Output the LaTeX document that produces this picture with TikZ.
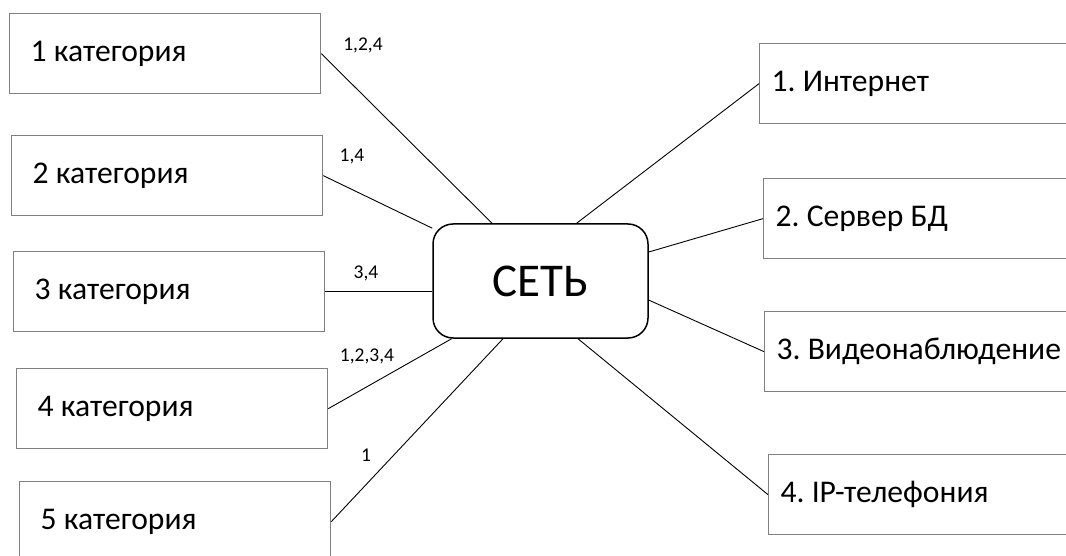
\documentclass[tikz,border=0pt]{standalone}
\usepackage{fontspec}
\setmainfont{Carlito}
\frenchspacing
\tikzset{
catnode/.style={rectangle, draw=gray, line width=1.3pt, anchor=north west, text width=269pt, inner xsep=21pt, minimum height=80pt, align=flush left, font=\fontsize{31.6}{38}\selectfont},
svcnode/.style={rectangle, draw=gray, line width=1.3pt, anchor=north west, text width=300pt, inner xsep=12pt, minimum height=80pt, align=flush left, font=\fontsize{31.6}{38}\selectfont},
netnode/.style={rectangle, rounded corners=20pt, draw=black, line width=1.5pt, minimum width=215pt, minimum height=114pt, font=\fontsize{47}{54}\selectfont},
lblnode/.style={inner sep=0pt, font=\fontsize{19.5}{22}\selectfont},
link/.style={draw=black, line width=0.9pt}
}
\begin{document}
\begin{tikzpicture}[x=1pt, y=-1pt]
\useasboundingbox (0,0) rectangle (1066,556);

%Network node
\node[netnode] (net) at (540.5,281) {СЕТЬ};

%Category nodes
\node[catnode] (c1) at (9,13)  {1 категория};
\node[catnode] (c2) at (11,135)  {2 категория};
\node[catnode] (c3) at (13,251)  {3 категория};
\node[catnode] (c4) at (16,368)  {4 категория};
\node[catnode] (c5) at (19,481)  {5 категория};

%Service nodes
\node[svcnode] (s1) at (759,43)  {1. Интернет};
\node[svcnode] (s2) at (763,178)  {2. Сервер БД};
\node[svcnode] (s3) at (764,311)  {3. Видеонаблюдение};
\node[svcnode] (s4) at (768,454)  {4. IP-телефония};

% labels of the links
\node[lblnode] (l1) at (363,45)  {1,2,4};
\node[lblnode] (l2) at (352,156)  {1,4};
\node[lblnode] (l3) at (366,273)  {3,4};
\node[lblnode] (l4) at (367,356)  {1,2,3,4};
\node[lblnode] (l5) at (366,455)  {1};

\draw[link] (c1.east) -- (net.130.6);
\draw[link] (c2.east) -- (net.154.4);
\draw[link] (c3.east) -- (c3.east -| net.west);
\draw[link] (c4.east) -- (net.213.5);
\draw[link] (c5.east) -- (net.237.6);

\draw[link] (net.58.5) -- (s1.west);
\draw[link] (net.15.8) -- (s2.west);
\draw[link] (net.-10) -- (s3.west);
\draw[link] (net.-57.4) -- (s4.west);

\end{tikzpicture}
\end{document}
